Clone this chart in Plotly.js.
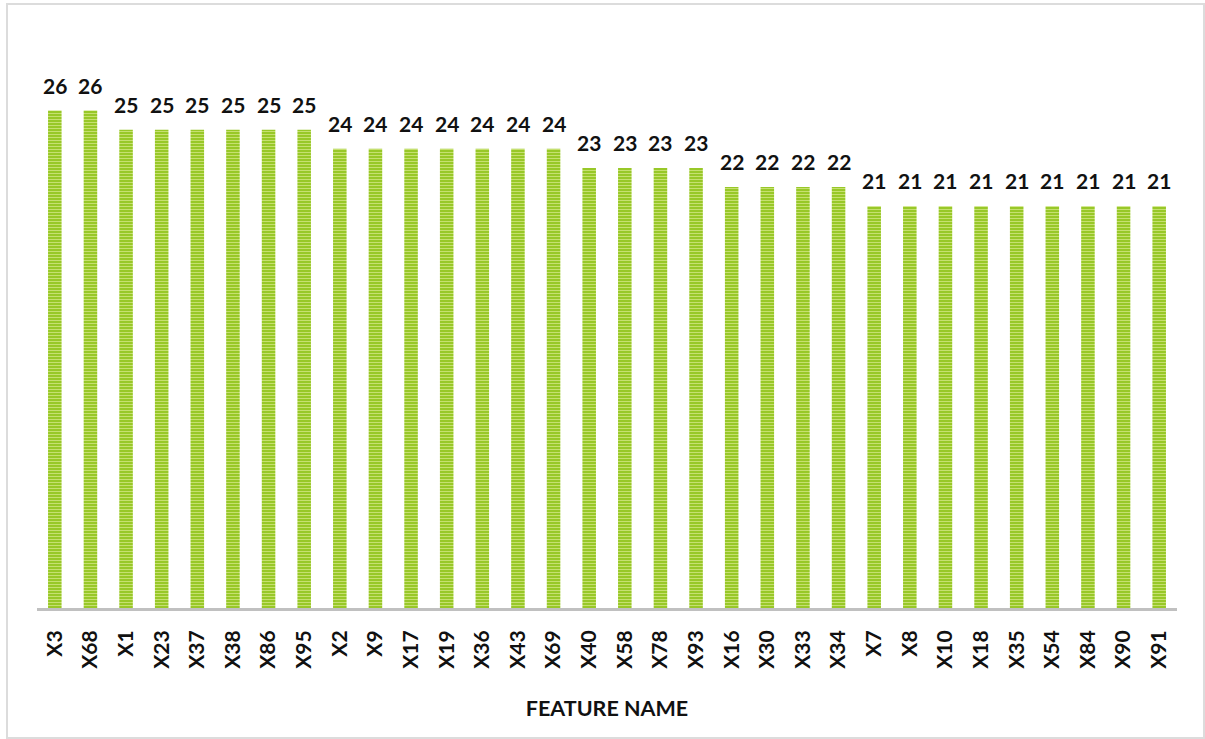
<!DOCTYPE html>
<html>
<head>
<meta charset="utf-8">
<script src="https://cdn.plot.ly/plotly-3.0.1.min.js"></script>
<style>
  html, body { margin: 0; padding: 0; background: #fff; }
  #wrap { position: relative; width: 1205px; height: 739px; }
  #chart { width: 1205px; height: 739px; }
  #frame {
    position: absolute; left: 6px; top: 3px; width: 1195px; height: 732px;
    border: 2px solid #dcdcdc; pointer-events: none;
  }
</style>
</head>
<body>
<div id="wrap">
  <div id="chart"></div>
  <div id="frame"></div>
</div>
<script>
// Feature names and how often each one was selected
const features = ["X3", "X68", "X1", "X23", "X37", "X38", "X86", "X95",
  "X2", "X9", "X17", "X19", "X36", "X43", "X69",
  "X40", "X58", "X78", "X93",
  "X16", "X30", "X33", "X34",
  "X7", "X8", "X10", "X18", "X35", "X54", "X84", "X90", "X91"];
const counts = [26, 26, 25, 25, 25, 25, 25, 25,
  24, 24, 24, 24, 24, 24, 24,
  23, 23, 23, 23,
  22, 22, 22, 22,
  21, 21, 21, 21, 21, 21, 21, 21, 21];
const axisTitle = "FEATURE NAME";

const fontFamily = "Lato, 'Open Sans', sans-serif";
const boldFont = (size) => ({ family: fontFamily, size: size, color: "#111", weight: "bold" });

const bars = {
  type: "bar",
  x: features,
  y: counts,
  marker: {
    color: "#9ccb2c",
    line: { width: 0 },
    pattern: { shape: "-", bgcolor: "#98c828", fgcolor: "#c6e070", size: 3, solidity: 0.35 }
  },
  hoverinfo: "x+y"
};

// value labels above each bar
const valueLabels = features.map((f, i) => ({
  x: f, y: counts[i], xref: "x", yref: "y",
  text: String(counts[i]), showarrow: false,
  yanchor: "bottom", yshift: 11,
  font: boldFont(21)
}));

const layout = {
  width: 1205, height: 739,
  margin: { l: 37, r: 28, t: 34, b: 131, pad: 0 },
  paper_bgcolor: "#fff", plot_bgcolor: "#fff",
  showlegend: false,
  bargap: 0.62,
  xaxis: {
    type: "category",
    showline: true, linecolor: "#c0c0c0", linewidth: 3,
    showgrid: false, zeroline: false, ticks: "",
    tickangle: -90,
    ticklabelstandoff: 11,
    tickfont: boldFont(21),
    title: { text: axisTitle, standoff: 34, font: boldFont(21.5) }
  },
  yaxis: {
    range: [0, 30],
    visible: false, showgrid: false, zeroline: false
  },
  annotations: valueLabels
};

Plotly.newPlot("chart", [bars], layout, { displayModeBar: false, staticPlot: true });
</script>
</body>
</html>
